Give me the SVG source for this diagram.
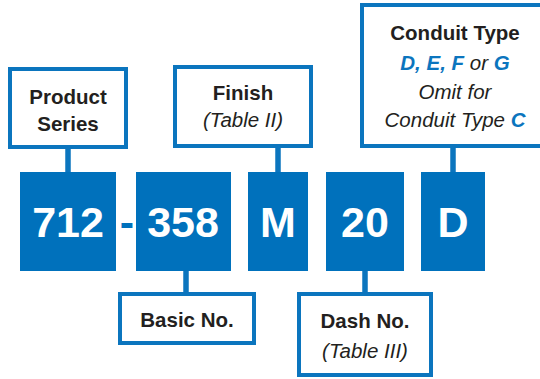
<svg xmlns="http://www.w3.org/2000/svg" width="540" height="379" viewBox="0 0 540 379">
<style>
.lbl{fill:#fff;stroke:#0B75BE;stroke-width:4}
.blk{fill:#0071BC}
.big{font-family:"Liberation Sans",Arial,sans-serif;font-weight:bold;font-size:43px;fill:#fff;text-anchor:middle}
.t{font-family:"Liberation Sans",Arial,sans-serif;font-size:20.5px;fill:#231F20;text-anchor:middle}
.b{font-weight:bold}
.i{font-style:italic}
.bl{fill:#0B75BE;font-weight:bold}
.con{stroke:#0B75BE;stroke-width:5.5;fill:none}
</style>
<rect width="540" height="379" fill="#fff"/>
<g id="connectors">
<line class="con" x1="68" y1="148" x2="68" y2="173"/>
<line class="con" x1="278" y1="147" x2="278" y2="173"/>
<line class="con" x1="453" y1="147" x2="453" y2="173"/>
<line class="con" x1="186" y1="270" x2="186" y2="293"/>
<line class="con" x1="365" y1="270" x2="365" y2="293"/>
</g>
<g id="product-series">
<rect class="lbl" x="10" y="69" width="116" height="78"/>
<text class="t b" x="68" y="103.5">Product</text>
<text class="t b" x="68" y="130.5">Series</text>
</g>
<g id="finish">
<rect class="lbl" x="175" y="67" width="136" height="79"/>
<text class="t b" x="243" y="100">Finish</text>
<text class="t i" x="243" y="127">(Table II)</text>
</g>
<g id="conduit-type">
<rect class="lbl" x="362" y="5" width="186" height="141"/>
<text class="t b" x="455" y="39.5">Conduit Type</text>
<text class="t i" x="455" y="70"><tspan class="bl">D, E, F</tspan> or <tspan class="bl">G</tspan></text>
<text class="t i" x="455" y="99">Omit for</text>
<text class="t i" x="455" y="127">Conduit Type <tspan class="bl">C</tspan></text>
</g>
<g id="basic-no">
<rect class="lbl" x="120" y="294" width="134" height="49"/>
<text class="t b" x="187" y="327">Basic No.</text>
</g>
<g id="dash-no">
<rect class="lbl" x="299" y="294" width="132" height="81"/>
<text class="t b" x="365" y="327.5">Dash No.</text>
<text class="t i" x="365" y="358">(Table III)</text>
</g>
<g id="code-712">
<rect class="blk" x="20" y="172" width="96" height="99"/>
<text class="big" x="68" y="237">712</text>
</g>
<g id="code-dash">
<text class="big" x="127" y="237" style="fill:#0071BC">-</text>
</g>
<g id="code-358">
<rect class="blk" x="136" y="172" width="95" height="99"/>
<text class="big" x="183" y="237">358</text>
</g>
<g id="code-M">
<rect class="blk" x="248" y="172" width="60" height="99"/>
<text class="big" x="278" y="237">M</text>
</g>
<g id="code-20">
<rect class="blk" x="326" y="172" width="78" height="99"/>
<text class="big" x="365" y="237">20</text>
</g>
<g id="code-D">
<rect class="blk" x="421" y="172" width="64" height="99"/>
<text class="big" x="453" y="237">D</text>
</g>
</svg>
